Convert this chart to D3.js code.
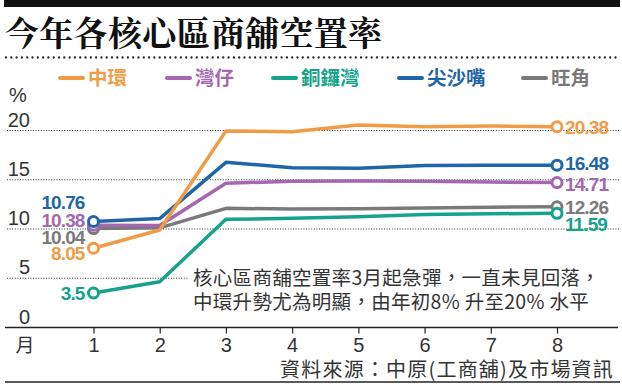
<!DOCTYPE html>
<html>
<head>
<meta charset="utf-8">
<script src="https://cdn.jsdelivr.net/npm/d3@7"></script>
<style>
  body { margin: 0; background: #fff; }
  svg { display: block; }
</style>
</head>
<body>
<div class="canvas"></div>
<script>
// data
const months = [1, 2, 3, 4, 5, 6, 7, 8]
const yTicks = [0, 5, 10, 15, 20]
const seriesNames = ['中環', '灣仔', '銅鑼灣', '尖沙嘴', '旺角']
const central  = [8.05, 9.9, 19.95, 19.88, 20.55, 20.39, 20.45, 20.38]
const wanchai  = [10.38, 10.35, 14.64, 14.86, 14.87, 14.86, 14.77, 14.71]
const causeway = [3.5, 4.65, 10.98, 11.08, 11.25, 11.48, 11.55, 11.59]
const tst      = [10.76, 11.06, 16.77, 16.22, 16.16, 16.45, 16.48, 16.48]
const mongkok  = [10.04, 10.12, 12.1, 12.03, 12.06, 12.13, 12.22, 12.26]

const title = '今年各核心區商舖空置率'
const note = ['核心區商舖空置率3月起急彈，一直未見回落，', '中環升勢尤為明顯，由年初8% 升至20% 水平']
const source = '資料來源：中原(工商舖)及市場資訊'

const W = 622, H = 386
const colours = {'中環':'#f09c47', '灣仔':'#a467b0', '銅鑼灣':'#17a38b', '尖沙嘴':'#1f66a9', '旺角':'#7a7a7a'}
const values = {'中環':central, '灣仔':wanchai, '銅鑼灣':causeway, '尖沙嘴':tst, '旺角':mongkok}
// nudges for end labels (px), so they don't collide
const firstDy = {'中環':5, '灣仔':-5, '銅鑼灣':0, '尖沙嘴':-20, '旺角':8}
const lastDy  = {'中環':0, '灣仔':1, '銅鑼灣':11, '尖沙嘴':-2, '旺角':0}

const numFont = '"Liberation Sans", Arial, sans-serif'
const cjkFont = '"Noto Sans CJK TC", "Noto Sans CJK SC", sans-serif'

const svg = d3.select('.canvas').append('svg')
    .attr('width', W).attr('height', H)

const x = d3.scaleLinear().domain([1, 8]).range([93.5, 557])
const y = d3.scaleLinear().domain([0, 20]).range([327.5, 130.5])

// header
svg.append('rect').attr('x', 4).attr('y', 0).attr('width', 616).attr('height', 7).attr('fill', '#111')
svg.append('text')
    .attr('x', 5).attr('y', 46)
    .attr('font-family', '"Noto Serif CJK TC", ' + cjkFont)
    .attr('font-weight', 700).attr('font-size', 34).attr('fill', '#111')
    .attr('letter-spacing', 0.3)
    .text(title)
svg.append('line')
    .attr('x1', 6).attr('x2', 620).attr('y1', 57.5).attr('y2', 57.5)
    .attr('stroke', '#222').attr('stroke-width', 2.3)
    .attr('stroke-linecap', 'round').attr('stroke-dasharray', '0,5.3')

// legend
const legendX = [60, 167, 273, 399, 523]
const legend = svg.append('g')
seriesNames.forEach((name, i) => {
    const g = legend.append('g').attr('transform', `translate(${legendX[i]},78)`)
    g.append('line').attr('x1', 0).attr('x2', 23).attr('y1', 0).attr('y2', 0)
        .attr('stroke', colours[name]).attr('stroke-width', 4).attr('stroke-linecap', 'round')
    g.append('text').attr('x', 28).attr('y', 7)
        .attr('font-family', cjkFont).attr('font-weight', 700).attr('font-size', 19.5)
        .attr('fill', colours[name]).text(name)
})

// y grid + labels
svg.append('text').attr('x', 9).attr('y', 102)
    .attr('font-family', numFont).attr('font-size', 20).attr('fill', '#333').text('%')

const grid = svg.append('g')
grid.selectAll('line').data(yTicks.filter(d => d > 0)).enter()
    .append('line')
    .attr('x1', 7).attr('x2', 620)
    .attr('y1', d => y(d)).attr('y2', d => y(d))
    .attr('stroke', '#333').attr('stroke-width', 1).attr('stroke-dasharray', '1,1.6')
grid.selectAll('text').data(yTicks).enter()
    .append('text')
    .attr('x', 30).attr('y', d => y(d) - 4)
    .attr('text-anchor', 'end')
    .attr('font-family', numFont).attr('font-size', 20).attr('fill', '#333')
    .text(d => d)

// x axis
svg.append('line').attr('x1', 5).attr('x2', 618).attr('y1', 327.5).attr('y2', 327.5)
    .attr('stroke', '#222').attr('stroke-width', 1.5)
const xAxis = d3.axisBottom(x).tickValues(months).tickFormat(d3.format('d'))
    .tickSize(6).tickPadding(4)
const xg = svg.append('g').attr('transform', 'translate(0,327.5)').call(xAxis)
xg.select('.domain').remove()
xg.selectAll('.tick line').attr('stroke', '#222').attr('stroke-width', 1.2)
xg.selectAll('.tick text')
    .attr('font-family', numFont).attr('font-size', 20).attr('fill', '#333')
svg.append('text').attr('x', 25).attr('y', 352).attr('text-anchor', 'middle')
    .attr('font-family', cjkFont).attr('font-size', 19).attr('fill', '#333').text('月')

// annotation box, covers the grid behind it
svg.append('rect').attr('x', 189).attr('y', 264).attr('width', 433).attr('height', 50).attr('fill', '#fff')
svg.selectAll('.note').data(note).enter()
    .append('text').attr('class', 'note')
    .attr('x', 193).attr('y', (d, i) => 285 + i * 24)
    .attr('font-family', cjkFont).attr('font-weight', 400).attr('font-size', 19.5)
    .attr('letter-spacing', 0.3)
    .attr('fill', '#333').text(d => d)

// lines
const line = d3.line().x((d, i) => x(months[i])).y(d => y(d))
const drawOrder = ['旺角', '灣仔', '銅鑼灣', '尖沙嘴', '中環']
const plot = svg.append('g')
drawOrder.forEach(name => {
    const vals = values[name]
    plot.append('path')
        .attr('d', line(vals))
        .attr('fill', 'none').attr('stroke', colours[name])
        .attr('stroke-width', 3.5).attr('stroke-linejoin', 'round')
})
drawOrder.forEach(name => {
    const vals = values[name]
    const ends = [0, vals.length - 1]
    plot.selectAll(null).data(ends).enter()
        .append('circle')
        .attr('cx', i => x(months[i])).attr('cy', i => y(vals[i]))
        .attr('r', 5).attr('fill', '#fff')
        .attr('stroke', colours[name]).attr('stroke-width', 3)
    // start label
    plot.append('text')
        .attr('x', x(months[0]) - 9).attr('y', y(vals[0]) + firstDy[name] + 7)
        .attr('text-anchor', 'end')
        .attr('font-family', numFont).attr('font-weight', 700).attr('font-size', 19)
        .attr('letter-spacing', -0.9).attr('fill', colours[name])
        .text(vals[0])
    // end label
    const last = vals[vals.length - 1]
    plot.append('text')
        .attr('x', x(months[months.length - 1]) + 8).attr('y', y(last) + lastDy[name] + 7)
        .attr('font-family', numFont).attr('font-weight', 700).attr('font-size', 19)
        .attr('letter-spacing', -0.9).attr('fill', colours[name])
        .text(last)
})

// source + bottom rule
svg.append('text').attr('x', 614).attr('y', 377).attr('text-anchor', 'end')
    .attr('font-family', cjkFont).attr('font-size', 20).attr('fill', '#333')
    .attr('letter-spacing', 1.2)
    .text(source)
svg.append('line').attr('x1', 5).attr('x2', 620).attr('y1', 382).attr('y2', 382)
    .attr('stroke', '#222').attr('stroke-width', 1.5)
</script>
</body>
</html>
